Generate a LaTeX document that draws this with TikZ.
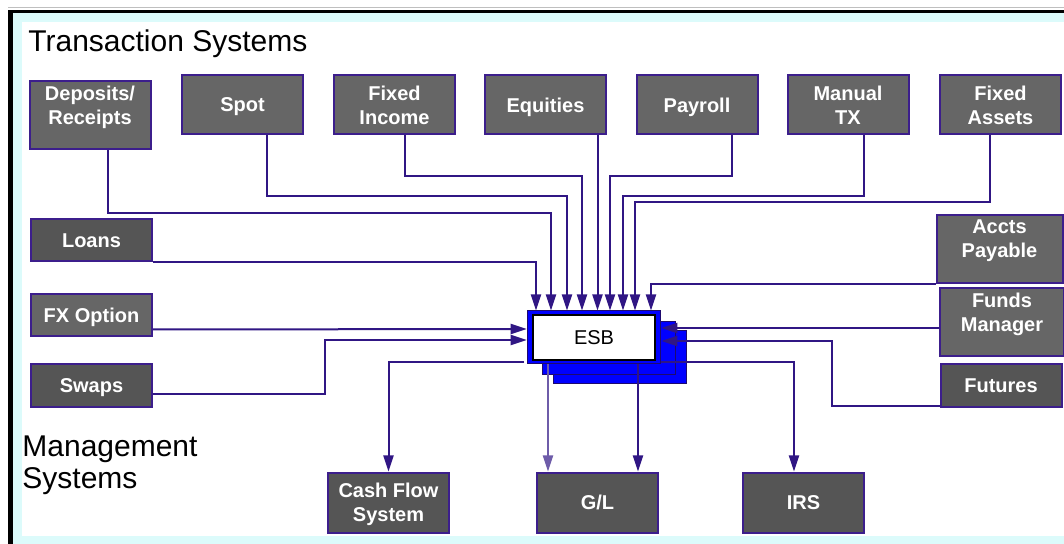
\documentclass[tikz,border=0pt]{standalone}
\usepackage{fontspec}
\setmainfont{Liberation Sans}
\usetikzlibrary{arrows.meta}

\definecolor{wire}{RGB}{48,22,132}
\definecolor{boxline}{RGB}{60,30,140}
\definecolor{boxgrey}{RGB}{102,102,102}
\definecolor{boxdark}{RGB}{85,85,85}
\definecolor{busblue}{RGB}{0,0,255}
\definecolor{busline}{RGB}{30,10,110}
\definecolor{edge}{RGB}{220,251,251}

\begin{document}
\begin{tikzpicture}[x=0.5pt, y=-0.5pt, >={Triangle[length=8pt,width=5pt]},
  sys/.style={draw=boxline, line width=1pt, fill=boxgrey, text=white, inner sep=0pt,
    minimum width=60.5pt, minimum height=29.5pt, align=center, text depth=0pt,
    font=\fontsize{10}{12}\selectfont\bfseries},
  sysdark/.style={sys, fill=boxdark},
  systall/.style={sys, minimum height=34pt, text depth=10.5pt},
  layer/.style={draw=busline, line width=0.5pt, fill=busblue, inner sep=0pt,
    minimum width=66.8pt, minimum height=26.5pt},
  core/.style={draw=black, line width=1.25pt, fill=white, inner sep=0pt,
    minimum width=61pt, minimum height=22.3pt, font=\fontsize{10}{12}\selectfont},
  link/.style={draw=wire, line width=1pt}]
\useasboundingbox (0,0) rectangle (1064,544);
%% frame
\fill[white] (0,0) rectangle (1064,544);
\fill[edge] (13,13) rectangle (1064,544);
\fill[white] (22,22) rectangle (1064,536);
\draw[gray!50, line width=0.5pt] (8,7.5) -- (1064,7.5);
\fill[black] (8.3,10) rectangle (1064,13.3);
\fill[black] (8.3,10) rectangle (13.3,544);

%%%%%%%%%%%%%%%%%%%%%% Titles
\node[anchor=base west, inner sep=0pt, font=\fontsize{15}{18}\selectfont] (ttl) at (28,52) {Transaction Systems};
\node[anchor=north west, inner sep=0pt, align=left, font=\fontsize{15}{16}\selectfont] (mgt) at (22,435) {Management\\Systems};

%%%%%%%%%%%%%%%%%%%%%% Transaction systems
\node[systall] (dep) at (90,115.5) {Deposits/\\Receipts};
\node[sys] (spot) at (242.5,105) {Spot};
\draw (spot) ++(152,0) node[sys] (fixinc) {Fixed\\Income};
\draw (fixinc) ++(151,0) node[sys] (equ) {Equities};
\draw (equ) ++(151.5,0) node[sys] (pay) {Payroll};
\draw (pay) ++(151,0) node[sys] (mantx) {Manual\\TX};
\draw (mantx) ++(152.5,0) node[sys] (fixas) {Fixed\\Assets};
%% left
\node[sysdark, minimum height=21pt] (loans) at (91.5,240.5) {Loans};
\draw (loans) ++(0,75) node[sys, minimum height=21pt] (fx) {FX Option};
\draw (fx) ++(0,70.5) node[sysdark, minimum height=21.5pt] (swaps) {Swaps};
%% right
\node[systall, minimum width=63pt] (accts) at (999.5,249.5) {Accts\\Payable};
\node[systall, minimum width=62pt] (funds) at (1002,322.5) {Funds\\Manager};
\node[sysdark, minimum height=21.5pt] (fut) at (1001,386) {Futures};

%%%%%%%%%%%%%%%%%%%%%% Management systems
\node[sysdark, minimum height=30pt] (cash) at (388.5,502.5) {Cash Flow\\System};
\draw (cash) ++(209,0) node[sysdark, minimum height=30pt] (gl) {G/L};
\draw (gl) ++(206,0) node[sysdark, minimum height=30pt] (irs) {IRS};

%%%%%%%%%%%%%%%%%%%%%% ESB
\node[layer] (esb3) at (620,357) {};
\draw (esb3) ++(-11,-8.5) node[layer] (esb2) {};
\draw (esb2) ++(-15,-11) node[layer] (esb1) {};
\node[core] (esb) at (esb1) {ESB};

\coordinate (in1) at (536,0 |- esb1.north);
\coordinate (in2) at (551,0 |- esb1.north);
\coordinate (in3) at (567,0 |- esb1.north);
\coordinate (in4) at (582,0 |- esb1.north);
\coordinate (in5) at (597.5,0 |- esb1.north);
\coordinate (in6) at (610,0 |- esb1.north);
\coordinate (in7) at (623,0 |- esb1.north);
\coordinate (in8) at (635,0 |- esb1.north);
\coordinate (in9) at (651,0 |- esb1.north);
\coordinate (inL1) at (esb1.west |- 0,329);
\coordinate (inL2) at (esb1.west |- 0,340);
\coordinate (inR1) at (esb1.east |- 0,328);
\coordinate (inR2) at (esb1.east |- 0,341);
\coordinate (outL) at (524,362);
\coordinate (outR) at (esb1.east |- 0,362);
\coordinate (outG1) at (548,0 |- esb1.south);
\coordinate (outG2) at (638,0 |- esb1.south);

%% into the bus
\path[link, ->] (loans.south east) -| (in1);
\path[link, ->] (dep.south) ++(18,0) -- ++(0,63) -| (in2);
\path[link, ->] (spot.south) ++(24.5,0) -- ++(0,61) -| (in3);
\path[link, ->] (fixinc.south) ++(10.5,0) -- ++(0,41) -| (in4);
\path[link, ->] (in5 |- equ.south) -- (in5);
\path[link, ->] (pay.south) ++(35,0) -- ++(0,41) -| (in6);
\path[link, ->] (mantx.south) ++(16,0) -- ++(0,61) -| (in7);
\path[link, ->] (fixas.south) ++(-10.5,0) -- ++(0,67) -| (in8);
\path[link, ->] (accts.south west) -| (in9);
\path[link, ->] (fx.south east) ++(0,-8) -- (inL1);
\path[link, ->] (swaps.east) ++(0,8) -- ++(172,0) |- (inL2);
\path[link, ->] (funds.west) ++(0,5.5) -- (inR1);
\path[link, ->] (fut.west) ++(0,20) -- ++(-108,0) |- (inR2);
%% out of the bus
\path[link, ->] (outL) -| (cash.north);
\path[link, ->, draw=wire!70] (outG1) -- (outG1 |- gl.north);
\path[link, ->] (outG2) -- (outG2 |- gl.north);
\path[link, ->] (outR) -| ([xshift=-4.75pt]irs.north);
\end{tikzpicture}
\end{document}
